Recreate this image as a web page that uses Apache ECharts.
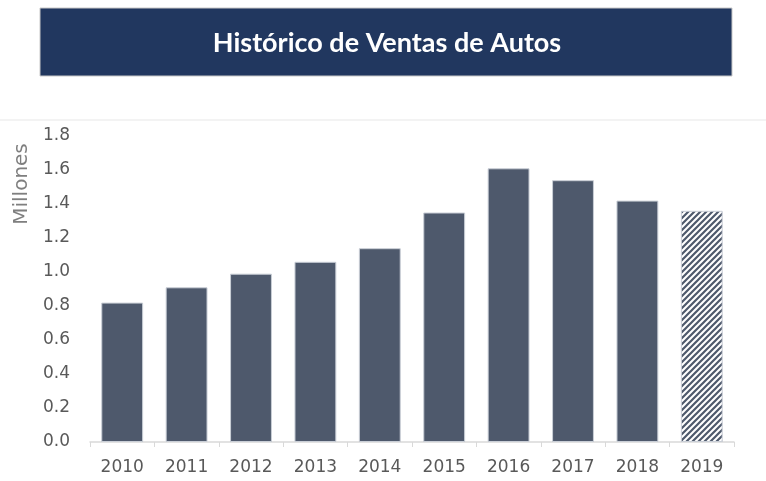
<!DOCTYPE html>
<html>
<head>
<meta charset="utf-8">
<script src="https://cdn.jsdelivr.net/npm/echarts@6/dist/echarts.min.js"></script>
<style>
  html, body { margin: 0; padding: 0; background: #fff; }
  #chart { width: 766px; height: 481px; }
</style>
</head>
<body>
<div id="chart"></div>
<script>
// datos
const years = ['2010', '2011', '2012', '2013', '2014', '2015', '2016', '2017', '2018', '2019']
const ventas = [0.82, 0.91, 0.99, 1.06, 1.14, 1.35, 1.61, 1.54, 1.42, 1.36]
const yTicks = [0, 0.2, 0.4, 0.6, 0.8, 1.0, 1.2, 1.4, 1.6, 1.8]

const barColor = '#4e596c'

// patron rayado para el ultimo año (estimado)
const makeHatch = () => {
  const c = document.createElement('canvas')
  c.width = 6
  c.height = 6
  const ctx = c.getContext('2d')
  ctx.fillStyle = '#ffffff'
  ctx.fillRect(0, 0, 6, 6)
  ctx.strokeStyle = barColor
  ctx.lineWidth = 2.2
  ctx.beginPath()
  ctx.moveTo(-3, 3); ctx.lineTo(3, -3)
  ctx.moveTo(0, 6); ctx.lineTo(6, 0)
  ctx.moveTo(3, 9); ctx.lineTo(9, 3)
  ctx.stroke()
  return c
}
const hatch = makeHatch()

const chart = echarts.init(document.getElementById('chart'))

chart.setOption({
  animation: false,
  backgroundColor: '#ffffff',
  graphic: [
    {
      type: 'rect',
      shape: { x: 40, y: 8, width: 692, height: 68 },
      style: { fill: '#21375f', stroke: '#c8c8c8', lineWidth: 1 },
      z: 10
    },
    {
      type: 'text',
      x: 387,
      y: 43,
      style: {
        text: 'Histórico de Ventas de Autos',
        fill: '#ffffff',
        font: 'bold 27px Lato',
        align: 'center',
        verticalAlign: 'middle'
      },
      z: 11
    },
    {
      type: 'rect',
      shape: { x: 0, y: 119, width: 766, height: 2 },
      style: { fill: '#f3f3f3' },
      z: 1
    },
    {
      type: 'text',
      x: 22,
      y: 184,
      rotation: Math.PI / 2,
      style: {
        text: 'Millones',
        fill: '#7f7f7f',
        font: '20px "DejaVu Sans"',
        align: 'center',
        verticalAlign: 'middle'
      },
      z: 11
    }
  ],
  grid: {
    left: 90,
    right: 32,
    top: 136,
    bottom: 39,
    containLabel: false,
    outerBoundsMode: 'none'
  },
  xAxis: {
    type: 'category',
    data: years,
    axisLine: { lineStyle: { color: '#d9d9d9', width: 1.5 } },
    axisTick: { show: true, length: 5, lineStyle: { color: '#d9d9d9' } },
    axisLabel: {
      color: '#595959',
      fontFamily: 'DejaVu Sans',
      fontSize: 17,
      margin: 17
    }
  },
  yAxis: {
    type: 'value',
    min: 0,
    max: 1.8,
    interval: 0.2,
    axisLine: { show: false },
    axisTick: { show: false },
    splitLine: { show: false },
    axisLabel: {
      color: '#595959',
      fontFamily: 'DejaVu Sans',
      fontSize: 17,
      margin: 20,
      formatter: (v) => yTicks.includes(Math.round(v * 10) / 10) ? v.toFixed(1) : ''
    }
  },
  series: [
    {
      type: 'bar',
      barCategoryGap: '35%',
      data: ventas.map((v, i) => {
        if (i === ventas.length - 1) {
          return { value: v, itemStyle: { color: { image: hatch, repeat: 'repeat' } } }
        }
        return v
      }),
      itemStyle: {
        color: barColor,
        borderColor: '#c9ced6',
        borderWidth: 1
      }
    }
  ]
})
</script>
</body>
</html>
